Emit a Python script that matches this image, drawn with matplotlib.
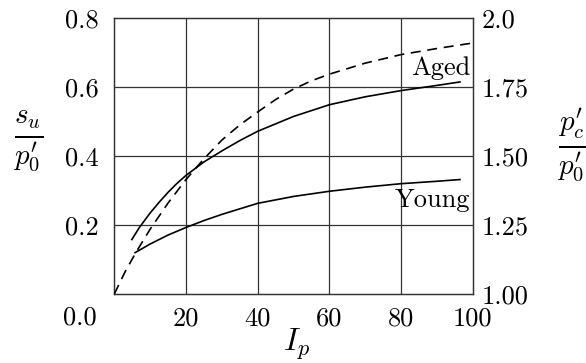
import matplotlib
matplotlib.use("Agg")
import matplotlib.pyplot as plt
import numpy as np

plt.rcParams['font.family'] = 'serif'
plt.rcParams['font.serif'] = ['cmr10']
plt.rcParams['mathtext.fontset'] = 'cm'
plt.rcParams['axes.unicode_minus'] = False
plt.rcParams['axes.formatter.use_mathtext'] = True

# Data
aged_x = [4.9, 7, 10, 12.5, 15, 17.5, 20, 25, 30, 35, 40, 50, 60, 70, 80, 90, 96.4]
aged_y = [0.158, 0.193, 0.235, 0.266, 0.295, 0.321, 0.344, 0.383, 0.415, 0.445, 0.472, 0.515, 0.549, 0.572, 0.590, 0.605, 0.615]

young_x = [5.8, 10, 15, 20, 25, 30, 40, 50, 60, 70, 80, 90, 96.4]
young_y = [0.120, 0.145, 0.171, 0.193, 0.213, 0.231, 0.263, 0.283, 0.298, 0.310, 0.320, 0.327, 0.332]

dash_x = [0, 3, 6, 10, 15, 20, 25, 30, 35, 40, 45, 50, 55, 60, 70, 80, 90, 100]
dash_y = [1.0, 1.08, 1.15, 1.235, 1.33, 1.415, 1.49, 1.558, 1.613, 1.66, 1.705, 1.743, 1.773, 1.797, 1.837, 1.868, 1.89, 1.91]

x_ticks = [20, 40, 60, 80, 100]
x_ticklabels = ['20', '40', '60', '80', '100']
left_ticks = [0.2, 0.4, 0.6, 0.8]
left_ticklabels = ['0.2', '0.4', '0.6', '0.8']
right_ticks = [1.0, 1.25, 1.5, 1.75, 2.0]
right_ticklabels = ['1.00', '1.25', '1.50', '1.75', '2.0']

FS = 19

fig = plt.figure(figsize=(5.86, 3.63), dpi=100)
ax = fig.add_axes([0.195, 0.19, 0.612, 0.76])
ax2 = ax.twinx()

ax.set_xlim(0, 100)
ax.set_ylim(0, 0.8)
ax2.set_ylim(1, 2)

ax.set_xticks(x_ticks, x_ticklabels)
ax.set_yticks(left_ticks, left_ticklabels)
ax2.set_yticks(right_ticks, right_ticklabels)
ax.tick_params(axis='both', length=0, labelsize=FS)
ax.tick_params(axis='x', pad=9)
ax.tick_params(axis='y', pad=11)
ax2.tick_params(axis='y', length=0, labelsize=FS, pad=6)

ax.annotate('0.0', xy=(0, 0), xycoords='axes fraction', xytext=(-24.5, -17),
            textcoords='offset points', ha='center', va='center', fontsize=FS)

for v in [20, 40, 60, 80]:
    ax.axvline(v, color='#333333', lw=0.9, zorder=1)
for v in [0.2, 0.4, 0.6]:
    ax.axhline(v, color='#333333', lw=0.9, zorder=1)

for a in (ax, ax2):
    for s in a.spines.values():
        s.set_linewidth(0.9)
        s.set_color('#333333')

ax.plot(aged_x, aged_y, color='black', lw=1.2, zorder=3)
ax.plot(young_x, young_y, color='black', lw=1.2, zorder=3)
ax2.plot(dash_x, dash_y, color='black', lw=1.2, dashes=(6, 4), zorder=3)

ax.text(99.2, 0.634, 'Aged', ha='right', va='baseline', fontsize=FS)
ax.text(99.2, 0.252, 'Young', ha='right', va='baseline', fontsize=FS)

fig.text(28/586, 1-141/363, r'$\frac{s_u}{p_0^\prime}$', ha='center', va='center', fontsize=30)
fig.text(572/586, 1-145/363, r'$\frac{p_c^\prime}{p_0^\prime}$', ha='center', va='center', fontsize=30)
fig.text(296/586, 1-344/363, r'$I_p$', ha='center', va='center', fontsize=23)

fig.savefig('out.png', dpi=100)
